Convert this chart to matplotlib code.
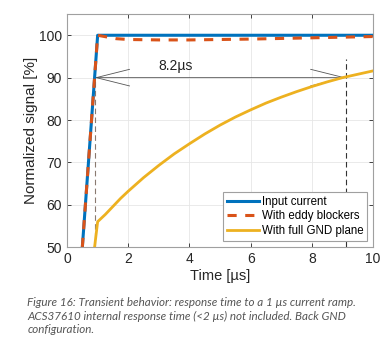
import matplotlib.pyplot as plt

# data
t_input = [0, 1.0, 10]
v_input = [0, 100, 100]

t_eddy = [0, 1.0, 1.3, 1.6, 2, 3, 4, 5, 6, 7, 8, 9, 10]
v_eddy = [0, 100, 99.6, 99.2, 99.0, 98.9, 98.9, 99.0, 99.1, 99.25, 99.4, 99.55, 99.7]

t_gnd = [0.86, 1.0, 1.25, 1.5, 1.75, 2, 2.5, 3, 3.5, 4, 4.5, 5, 5.5,
         6, 6.5, 7, 7.5, 8, 8.5, 9, 9.5, 10]
v_gnd = [47.6, 56, 57.7, 59.6, 61.5, 63.2, 66.4, 69.3, 72.0, 74.4, 76.7, 78.8, 80.7,
         82.4, 84.0, 85.4, 86.7, 87.9, 89.0, 90.0, 90.8, 91.6]

labels = ['Input current', 'With eddy blockers', 'With full GND plane']
t90_start = 0.9
t90_end = 9.1
delay_text = '8.2µs'

caption = ('Figure 16: Transient behavior: response time to a 1 µs current ramp.\n'
           'ACS37610 internal response time (<2 µs) not included. Back GND\n'
           'configuration.')

plt.rcParams['font.family'] = ['Liberation Sans', 'DejaVu Sans']

fig = plt.figure(figsize=(3.92, 3.52), dpi=100)
ax = fig.add_axes([0.171, 0.298, 0.781, 0.662])

ax.plot(t_input, v_input, color='#0072BD', lw=2.2, label=labels[0], zorder=4)
ax.plot(t_eddy, v_eddy, color='#D95319', lw=2.2, ls=(0, (3, 2.8)), label=labels[1], zorder=5)
ax.plot(t_gnd, v_gnd, color='#EDB120', lw=2.0, label=labels[2], zorder=3)

# 90 % markers
ax.plot([t90_start, t90_start], [50, 90], color='#8a7a70', lw=0.8, ls=(0, (5, 3)), zorder=2)
ax.plot([t90_end, t90_end], [50, 94.5], color='#333333', lw=0.8, ls=(0, (5, 3)), zorder=2)
ax.annotate('', xy=(t90_start, 90), xytext=(t90_end, 90),
            arrowprops=dict(arrowstyle='<->,head_length=2.4,head_width=0.6',
                            color='#555555', lw=0.6, mutation_scale=10,
                            shrinkA=0, shrinkB=0), zorder=2)
ax.text(3.55, 92.7, delay_text, ha='center', va='center', fontsize=10, color='#222222')

ax.set_xlim(0, 10)
ax.set_ylim(50, 105)
ax.set_xticks([0, 2, 4, 6, 8, 10])
ax.set_yticks([50, 60, 70, 80, 90, 100])
ax.tick_params(direction='in', top=True, right=True, labelsize=10,
               colors='#262626', length=3, width=0.6)
ax.grid(True, color='#e6e6e6', lw=0.6)
ax.set_axisbelow(True)
for s in ax.spines.values():
    s.set_color('#a0a0a0')
    s.set_linewidth(0.8)

ax.set_xlabel('Time [µs]', fontsize=10.5, color='#262626', labelpad=2)
ax.set_ylabel('Normalized signal [%]', fontsize=11, color='#262626', labelpad=1)

leg = ax.legend(loc='lower right', fontsize=8.3, handlelength=2.8,
                handletextpad=0.2, borderpad=0.35, labelspacing=0.25,
                fancybox=False, framealpha=1, borderaxespad=0.5)
leg.get_frame().set_edgecolor('#a0a0a0')
leg.get_frame().set_linewidth(0.8)

fig.text(0.07, 0.157, caption, fontsize=8.4, style='italic', color='#555555',
         family='Lato', va='top', linespacing=1.3)

fig.savefig('out.png', dpi=100)
